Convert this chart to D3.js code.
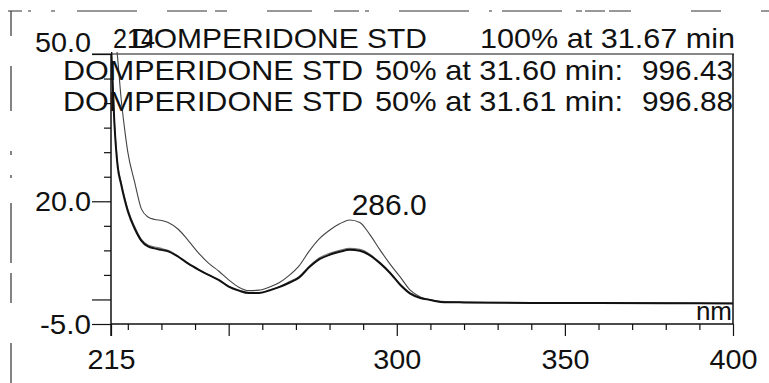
<!DOCTYPE html>
<html>
<head>
<meta charset="utf-8">
<script src="https://cdn.jsdelivr.net/npm/d3@7/dist/d3.min.js"></script>
<style>
  html, body { margin: 0; padding: 0; background: #fff; }
  svg { display: block; }
  text { font-family: "Liberation Sans", Arial, sans-serif; fill: #111; }
</style>
</head>
<body>
<svg id="chart" width="769" height="383"></svg>
<script>
// ---- data ----
const wavelengths = [215, 216, 217, 218, 219, 220, 222, 224, 226, 228, 230, 232, 235, 238, 241, 244, 247, 250, 253, 256, 259, 262, 265, 268, 271, 274, 277, 280, 283, 286, 289, 292, 295, 298, 301, 304, 307, 310, 313, 320, 340, 360, 380, 400];
const std100 = [62, 56, 49, 41, 35, 30, 24, 18.5, 16.8, 16.3, 16.1, 15.7, 14.3, 12.0, 9.5, 7.4, 5.8, 4.0, 2.5, 1.8, 1.9, 2.5, 3.4, 4.9, 6.9, 9.9, 12.4, 14.1, 15.4, 16.2, 15.7, 13.2, 10.1, 7.2, 4.6, 1.9, 0.5, -0.1, -0.4, -0.6, -0.7, -0.7, -0.75, -0.8];
const std50a = [52, 36, 27, 23.5, 20.5, 18, 14.5, 12, 10.8, 10.4, 10.1, 9.8, 8.7, 7.3, 6.1, 5.0, 4.0, 2.6, 1.8, 1.3, 1.3, 1.8, 2.5, 3.4, 4.5, 6.6, 8.2, 9.1, 9.7, 10.1, 9.9, 9.0, 7.4, 5.4, 3.0, 1.2, 0.3, -0.1, -0.5, -0.6, -0.7, -0.7, -0.75, -0.8];
const std50b = [52, 36.5, 27.5, 24, 21, 18.4, 14.9, 12.3, 11.1, 10.7, 10.4, 10.0, 8.8, 7.3, 6.1, 5.0, 4.0, 2.7, 1.9, 1.4, 1.4, 1.9, 2.6, 3.6, 4.7, 6.8, 8.5, 9.4, 10.0, 10.4, 10.2, 9.2, 7.5, 5.5, 3.1, 1.3, 0.3, -0.1, -0.5, -0.6, -0.7, -0.7, -0.75, -0.8];
const xMajorTicks = [215, 250, 300, 350, 400];
const xMinorTicks = [220, 230, 240, 260, 270, 280, 290, 310, 320, 330, 340, 360, 370, 380, 390];
const xTickLabels = {215: "215", 300: "300", 350: "350", 400: "400"};
const yMajorTicks = [-5, 0, 20, 50];
const yMinorTicks = [5, 10, 15, 25, 30, 35, 40, 45];
const yTickLabels = {"-5": "-5.0", "20": "20.0", "50": "50.0"};
const peakLabel = "286.0";
const titleLines = [
  ["DOMPERIDONE STD", "100% at 31.67 min"],
  ["DOMPERIDONE STD", "50% at 31.60 min:", "996.43"],
  ["DOMPERIDONE STD", "50% at 31.61 min:", "996.88"]
];
const unitLabel = "nm";

// ---- layout ----
const svg = d3.select("#chart");
const x = d3.scaleLinear().domain([215, 400]).range([111, 733]);
const y = d3.scaleLinear().domain([-5, 50]).range([324, 54]);

// scan border artefacts
svg.append("line").attr("x1", 8).attr("x2", 769).attr("y1", 11).attr("y2", 11)
  .attr("stroke", "#333").attr("stroke-width", 1.2)
  .attr("stroke-dasharray", "14,6,3,20,4,22,60,30,40,8,12,40,45,22,25,6,4,30,70,20,3,10,60");
svg.append("line").attr("x1", 11).attr("x2", 11).attr("y1", 11).attr("y2", 383)
  .attr("stroke", "#333").attr("stroke-width", 1.2)
  .attr("stroke-dasharray", "25,30,45,40,4,20,3,25,60,10,30,40,40,30,50");

// frame
svg.append("line").attr("x1", 92).attr("x2", 734).attr("y1", y(50)).attr("y2", y(50)).attr("stroke", "#111").attr("stroke-width", 1);
svg.append("line").attr("x1", x(400)).attr("x2", x(400)).attr("y1", y(50)).attr("y2", y(-5)).attr("stroke", "#111").attr("stroke-width", 1.5);

// x axis
const gx = svg.append("g").attr("transform", `translate(0,${y(-5)})`);
gx.append("g").call(d3.axisBottom(x).tickValues(xMinorTicks).tickSize(6).tickFormat(""))
  .call(g => g.select(".domain").remove());
gx.append("g").call(d3.axisBottom(x).tickValues(xMajorTicks).tickSize(12).tickPadding(12)
    .tickFormat(d => xTickLabels[d] || ""))
  .call(g => g.select(".domain").remove());
gx.selectAll("line").attr("stroke", "#111").attr("stroke-width", 1.2);
gx.selectAll("text").attr("font-size", 28).attr("fill", "#111").attr("dy", "0.75em")
  .attr("font-family", "Liberation Sans, Arial, sans-serif")
  .attr("textLength", d => xTickLabels[d] ? 48 : null).attr("lengthAdjust", "spacingAndGlyphs");
gx.append("line").attr("x1", x(215)).attr("x2", x(400)).attr("stroke", "#111").attr("stroke-width", 1.5);

// y axis
const gy = svg.append("g").attr("transform", `translate(${x(215)},0)`);
gy.append("g").call(d3.axisLeft(y).tickValues(yMinorTicks).tickSize(7).tickFormat(""))
  .call(g => g.select(".domain").remove());
gy.append("g").call(d3.axisLeft(y).tickValues(yMajorTicks).tickSize(19).tickPadding(1)
    .tickFormat(d => yTickLabels[d] || ""))
  .call(g => g.select(".domain").remove());
gy.selectAll("line").attr("stroke", "#111").attr("stroke-width", 1.2);
gy.selectAll("text").attr("font-size", 27).attr("fill", "#111")
  .attr("font-family", "Liberation Sans, Arial, sans-serif")
  .attr("textLength", d => yTickLabels[d] ? (d === -5 ? 51 : 56) : null).attr("lengthAdjust", "spacingAndGlyphs")
  .attr("dy", d => d === 50 ? "-0.1em" : "0.35em");
gy.append("line").attr("x1", 0).attr("x2", 0).attr("y1", y(50)).attr("y2", y(-5) + 12).attr("stroke", "#111").attr("stroke-width", 1.5);

// curves
svg.append("clipPath").attr("id", "plotclip").append("rect")
  .attr("x", x(215)).attr("y", y(50) - 2).attr("width", x(400) - x(215)).attr("height", y(-5) - y(50) + 2);
const line = d3.line().x(d => x(d[0])).y(d => y(d[1])).curve(d3.curveMonotoneX);
const series = [
  {vals: std100, stroke: "#444", width: 1.1},
  {vals: std50b, stroke: "#777", width: 1.1},
  {vals: std50a, stroke: "#111", width: 2}
];
const gc = svg.append("g").attr("clip-path", "url(#plotclip)");
series.forEach(s => {
  gc.append("path").datum(wavelengths.map((w, i) => [w, s.vals[i]]))
    .attr("d", line).attr("fill", "none").attr("stroke", s.stroke).attr("stroke-width", s.width);
});

// peak label (starts at the peak position)
svg.append("text").attr("x", x(286) + 2).attr("y", y(d3.max(std100.slice(25, 33))) - 5)
  .attr("text-anchor", "start").attr("font-size", 29).attr("textLength", 75).attr("lengthAdjust", "spacingAndGlyphs")
  .text(peakLabel);

// unit label
svg.append("text").attr("x", 732).attr("y", 320).attr("text-anchor", "end").attr("font-size", 26).text(unitLabel);

// title lines (overlaid header)
const hdr = svg.append("g").attr("font-size", 28);
hdr.append("text").attr("x", 113).attr("y", 48).attr("textLength", 42).attr("lengthAdjust", "spacingAndGlyphs").text("214");
hdr.append("text").attr("x", 132).attr("y", 48).attr("textLength", 295).attr("lengthAdjust", "spacingAndGlyphs").text(titleLines[0][0]);
hdr.append("text").attr("x", 480).attr("y", 48).attr("textLength", 255).attr("lengthAdjust", "spacingAndGlyphs").text(titleLines[0][1]);
[[80, titleLines[1]], [111, titleLines[2]]].forEach(([by, parts]) => {
  hdr.append("text").attr("x", 63).attr("y", by).attr("textLength", 300).attr("lengthAdjust", "spacingAndGlyphs").text(parts[0]);
  hdr.append("text").attr("x", 375).attr("y", by).attr("textLength", 248).attr("lengthAdjust", "spacingAndGlyphs").text(parts[1]);
  hdr.append("text").attr("x", 642).attr("y", by).attr("textLength", 91).attr("lengthAdjust", "spacingAndGlyphs").text(parts[2]);
});
</script>
</body>
</html>
